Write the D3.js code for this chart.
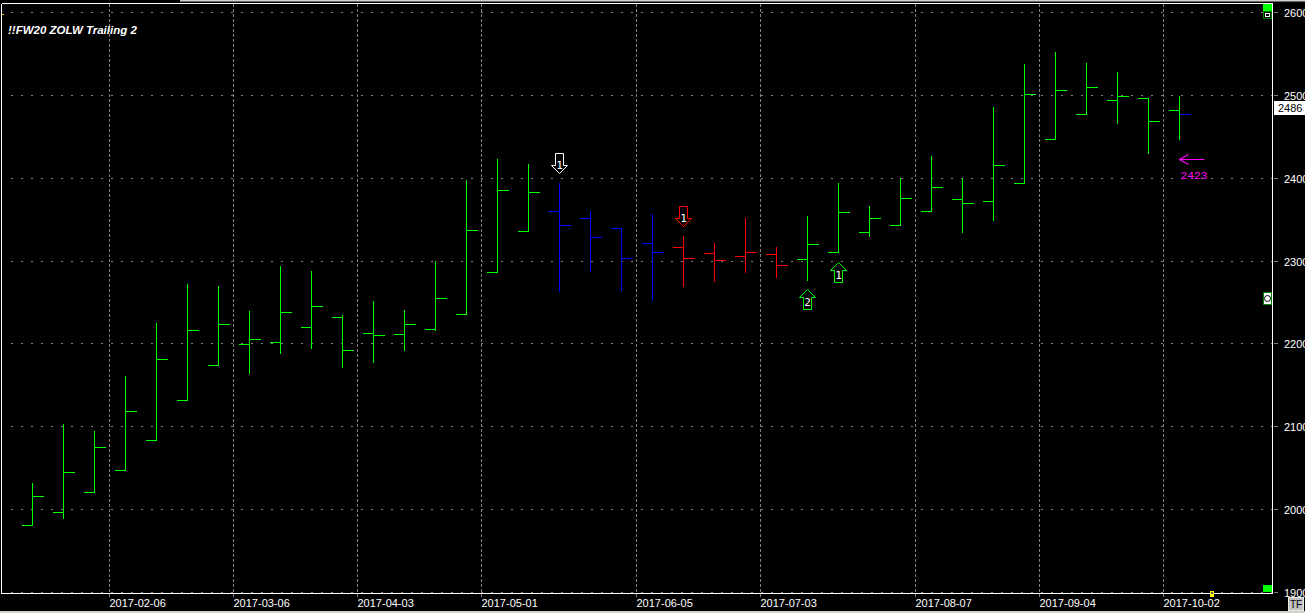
<!DOCTYPE html>
<html><head><meta charset="utf-8">
<script src="https://cdn.jsdelivr.net/npm/d3@7"></script>
<style>html,body{margin:0;padding:0;background:#000;overflow:hidden}svg{display:block}text{font-family:"Liberation Sans",Arial,sans-serif}</style>
</head><body><svg id="c" width="1305" height="613"></svg>
<script>
const title = "!!FW20 ZOLW Trailing 2";
const weeks = ["2017-01-16","2017-01-23","2017-01-30","2017-02-06","2017-02-13","2017-02-20","2017-02-27","2017-03-06","2017-03-13","2017-03-20","2017-03-27","2017-04-03","2017-04-10","2017-04-17","2017-04-24","2017-05-01","2017-05-08","2017-05-15","2017-05-22","2017-05-29","2017-06-05","2017-06-12","2017-06-19","2017-06-26","2017-07-03","2017-07-10","2017-07-17","2017-07-24","2017-07-31","2017-08-07","2017-08-14","2017-08-21","2017-08-28","2017-09-04","2017-09-11","2017-09-18","2017-09-25","2017-10-02"];
const opens  = [1981,1997,2021,2047,2084,2132,2174,2199,2202,2220,2232,2213,2211,2217,2236,2286,2336,2360,2351,2339,2321,2316,2309,2306,2308,2302,2310,2334,2343,2360,2374,2372,2394,2447,2477,2494,2496,2482];
const highs  = [2033,2104,2095,2162,2226,2273,2271,2240,2295,2289,2236,2253,2242,2301,2399,2424,2418,2395,2361,2339,2357,2331,2322,2353,2317,2355,2395,2367,2401,2427,2401,2486,2539,2553,2540,2529,2496,2500];
const lows   = [1981,1989,2021,2047,2084,2132,2174,2164,2189,2194,2171,2177,2192,2216,2236,2286,2336,2263,2288,2265,2252,2269,2275,2286,2280,2276,2310,2330,2343,2360,2334,2349,2394,2447,2477,2466,2430,2447];
const closes = [2016,2045,2075,2119,2181,2216,2224,2205,2238,2245,2192,2210,2224,2255,2337,2385,2383,2343,2328,2303,2310,2303,2301,2310,2295,2320,2359,2351,2376,2389,2370,2415,2501,2506,2510,2499,2469,2477];
const barColors = ["g","g","g","g","g","g","g","g","g","g","g","g","g","g","g","g","g","b","b","b","b","r","r","r","r","g","g","g","g","g","g","g","g","g","g","g","g","g"];
const priceTicks = [1900,2000,2100,2200,2300,2400,2500,2600];
const dateTicks = ["2017-02-06","2017-03-06","2017-04-03","2017-05-01","2017-06-05","2017-07-03","2017-08-07","2017-09-04","2017-10-02"];
const lastPrice = 2486;
const signalWeeks  = ["2017-05-15","2017-06-12","2017-07-10","2017-07-17"];
const signalPrices = [2406,2342,2266,2299];
const signalDirs   = ["down","down","up","up"];
const signalText   = ["1","1","2","1"];
const signalTones  = ["w","r","g","g"];
const stopWeek = "2017-10-02", stopPrice = 2423;

const palette = {g:"#00ff00", b:"#0000ff", r:"#ff0000", w:"#ffffff"};
const svg = d3.select("#c");
const L = 2, R = 1272.5, T = 3.5, B = 592.5;
const y = d3.scaleLinear().domain([1900,2600]).range([592.5,12.5]);
const x = d3.scaleBand().domain(weeks).range([16, 16 + 31*weeks.length]);
const X = d => Math.round(x(d) + 16) + .5;
const Y = v => Math.floor(y(v)) + .5;

svg.append("rect").attr("width",1305).attr("height",613).attr("fill","#000");
svg.append("rect").attr("x",180).attr("y",0).attr("width",1125).attr("height",1.5).attr("fill","#d4d0c8");
svg.append("rect").attr("x",0).attr("y",611).attr("width",1305).attr("height",2).attr("fill","#d4d0c8");

// grid
const grid = svg.append("g").attr("fill","none").attr("stroke","#808080").attr("stroke-width",1).attr("shape-rendering","crispEdges");
grid.selectAll("line.h").data(priceTicks).join("line").attr("class","h")
  .attr("x1",L+9).attr("x2",R-1).attr("y1",Y).attr("y2",Y).attr("stroke-dasharray","2 8");
grid.selectAll("line.t").data(priceTicks).join("line").attr("class","t")
  .attr("x1",R+1).attr("x2",R+5).attr("y1",Y).attr("y2",Y);
grid.selectAll("line.v").data(dateTicks).join("line").attr("class","v")
  .attr("x1",d=>Math.round(x(d))+.5).attr("x2",d=>Math.round(x(d))+.5)
  .attr("y1",T).attr("y2",B+4).attr("stroke-dasharray","3 2");

// price bars
const idx = d3.range(weeks.length);
const bars = svg.append("g").attr("fill","none").attr("shape-rendering","crispEdges");
const bar = bars.selectAll("g").data(idx).join("g").attr("stroke",i=>palette[barColors[i]]);
bar.append("line").attr("x1",i=>X(weeks[i])).attr("x2",i=>X(weeks[i])).attr("y1",i=>Y(highs[i])).attr("y2",i=>Y(lows[i]));
bar.append("line").attr("x1",i=>X(weeks[i])-10.5).attr("x2",i=>X(weeks[i])).attr("y1",i=>Y(opens[i])).attr("y2",i=>Y(opens[i]));
bar.append("line").attr("x1",i=>X(weeks[i])).attr("x2",i=>X(weeks[i])+11).attr("y1",i=>Y(closes[i])).attr("y2",i=>Y(closes[i]))
   .attr("stroke",i=>i===weeks.length-1?palette.b:null);

// frame
const frame = svg.append("g").attr("stroke","#fff").attr("shape-rendering","crispEdges");
frame.append("line").attr("x1",1.5).attr("x2",1.5).attr("y1",T).attr("y2",B+1);
frame.append("line").attr("x1",1.5).attr("x2",R+.5).attr("y1",3.5).attr("y2",3.5);
frame.append("line").attr("x1",R).attr("x2",R).attr("y1",3).attr("y2",B+1);
frame.append("line").attr("x1",1.5).attr("x2",R+.5).attr("y1",B+.5).attr("y2",B+.5);

// axis labels
const lab = svg.append("g").attr("fill","#fff").attr("font-size",11);
lab.selectAll("text.p").data(priceTicks).join("text").attr("class","p")
  .attr("x",1284).attr("y",v=>Y(v)+4).text(d=>d);
lab.selectAll("text.d").data(dateTicks).join("text").attr("class","d")
  .attr("x",d=>x(d)+.5).attr("y",607).text(d=>d);

// title
svg.append("text").attr("x",8).attr("y",34).attr("fill","#fff").attr("font-size",11.5)
  .attr("font-weight","bold").attr("font-style","italic").text(title);

// last price box
svg.append("rect").attr("x",1274).attr("y",101).attr("width",31).attr("height",14).attr("fill","#fff");
svg.append("text").attr("x",1278).attr("y",112).attr("fill","#000").attr("font-size",11).text(lastPrice);

// signal arrows
const arrow = svg.append("g");
signalWeeks.forEach((w,i)=>{
  const cx = X(w), down = signalDirs[i]==="down", s = down ? 1 : -1, c = palette[signalTones[i]], py = Math.round(y(signalPrices[i]))+.5;
  const pts = [[0,0],[-8,-8*s],[-4,-8*s],[-4,-20*s],[4,-20*s],[4,-8*s],[8,-8*s]];
  arrow.append("path").attr("d",d3.line().x(p=>cx+p[0]).y(p=>py+p[1]).curve(d3.curveLinearClosed)(pts))
    .attr("fill","#000").attr("stroke",c).attr("stroke-width",1);
  arrow.append("text").attr("x",cx).attr("y",down ? py-5 : py+16).attr("text-anchor","middle")
    .attr("fill","#fff").attr("font-size",11).style("font-family","'DejaVu Sans Mono'").text(signalText[i]);
});

// stop arrow
const sx = X(stopWeek), sy = Math.round(y(stopPrice))+.5;
const stop = svg.append("g").attr("stroke","#ff00ff").attr("fill","none");
stop.append("line").attr("x1",sx).attr("x2",sx+25).attr("y1",sy).attr("y2",sy);
stop.append("path").attr("d",`M${sx},${sy}L${sx+9},${sy-5}M${sx},${sy}L${sx+9},${sy+5}`).attr("stroke-width",1.3);
svg.append("text").attr("x",sx+1).attr("y",sy+19).attr("fill","#ff00ff").attr("font-size",11.5)
  .style("font-family","'Liberation Mono'").attr("textLength",27).attr("lengthAdjust","spacingAndGlyphs").text(stopPrice);

// scale handles
const h = svg.append("g").attr("shape-rendering","crispEdges");
h.append("rect").attr("x",1263).attr("y",4).attr("width",9).attr("height",8).attr("fill","#00ff00");
h.append("rect").attr("x",1263.5).attr("y",11.5).attr("width",8).attr("height",7).attr("fill","#000").attr("stroke","#008000");
h.append("rect").attr("x",1265.5).attr("y",13.5).attr("width",4).attr("height",3).attr("fill","#000").attr("stroke","#fff");
h.append("rect").attr("x",1263).attr("y",585).attr("width",9).attr("height",7).attr("fill","#00ff00");
h.append("rect").attr("x",1263.5).attr("y",292.5).attr("width",8).attr("height",12).attr("fill","#fff").attr("stroke","#008000").attr("stroke-width",1);
svg.append("circle").attr("cx",1267.5).attr("cy",298.5).attr("r",3).attr("fill","#fff").attr("stroke","#000");
h.append("rect").attr("x",1210).attr("y",591).attr("width",4).attr("height",6).attr("fill","#ffff00");
h.append("rect").attr("x",1211).attr("y",592).attr("width",2).attr("height",2).attr("fill","#555");
h.append("rect").attr("x",2).attr("y",14).attr("width",2).attr("height",1).attr("fill","#ffcc00");

// TF button
h.append("rect").attr("x",1288.5).attr("y",597.5).attr("width",15).attr("height",13).attr("fill","#c0c0c0").attr("stroke","#e8e8e8");
svg.append("text").attr("x",1296).attr("y",608).attr("text-anchor","middle").attr("fill","#000").attr("font-size",10).text("TF");
</script></body></html>
